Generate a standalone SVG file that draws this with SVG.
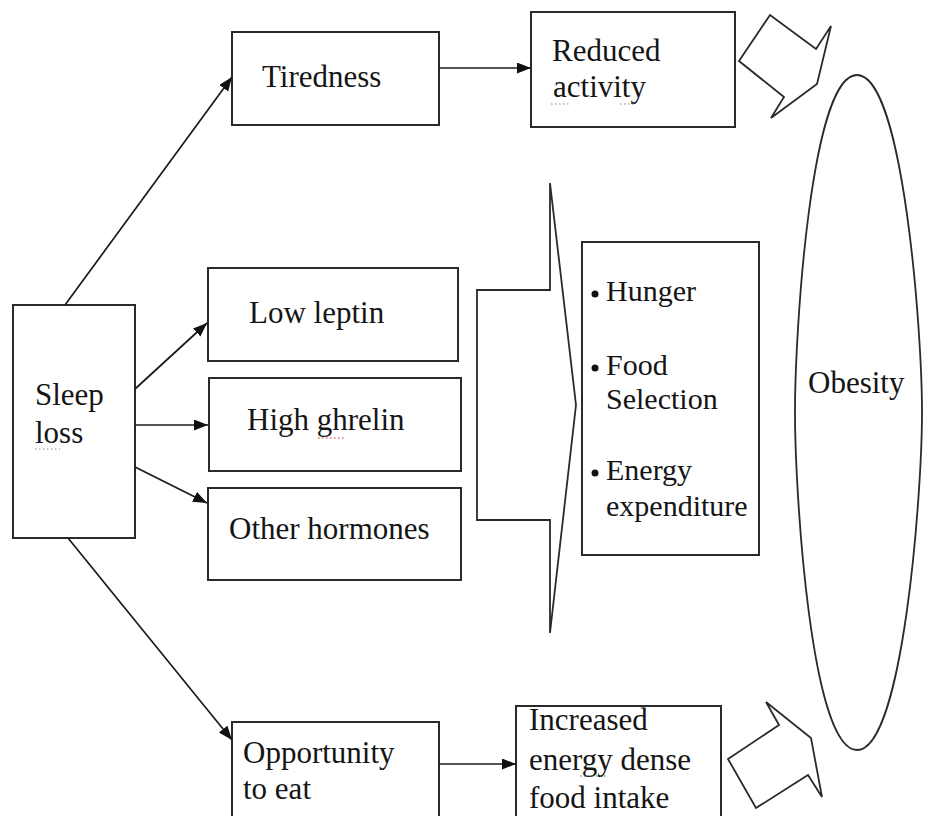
<svg xmlns="http://www.w3.org/2000/svg" width="931" height="816" viewBox="0 0 931 816">
<defs>
<style>
.box{fill:#fff;stroke:#2a2a2a;stroke-width:2}
.shape{fill:#fff;stroke:#2a2a2a;stroke-width:1.8;stroke-linejoin:miter}
.t{font-family:"Liberation Serif","Times New Roman",serif;font-size:31px;fill:#151515}
.tb{font-family:"Liberation Serif","Times New Roman",serif;font-size:30px;fill:#151515}
.conn line{stroke:#1a1a1a;stroke-width:1.7;marker-end:url(#ah)}
.sq{fill:none;stroke-width:1.2;stroke-dasharray:1.5 2.5}
</style>
<marker id="ah" markerUnits="userSpaceOnUse" markerWidth="16" markerHeight="12" refX="14" refY="5.5" orient="auto">
<path d="M0,0 L14,5.5 L0,11 z" fill="#111"/>
</marker>
</defs>
<rect width="931" height="816" fill="#fff"/>

<g id="obesity">
<path class="shape" d="M857,75 C903,75 922,330 922,412 C922,494 903,750 857,750 C811,750 795,494 795,412 C795,330 811,75 857,75 Z"/>
<text class="t" x="808" y="393">Obesity</text>
</g>

<g id="arrow-top">
<polygon class="shape" points="739,61 770,15 816,49 831,26 817,84 771,118 784,97"/>
</g>
<g id="arrow-bottom">
<polygon class="shape" points="766,702 779,725 728,759 756,808 808,775 822,797 811,738"/>
</g>
<g id="chevron">
<polygon class="shape" points="550,183 550,290 477,290 477,520 550,520 550,633 576,405"/>
</g>

<g id="sleep-loss">
<rect class="box" x="13" y="305" width="122" height="233"/>
<text class="t" x="35" y="405">Sleep</text>
<text class="t" x="35" y="443">loss</text>
<path class="sq" stroke="#8a8a8a" d="M35,449 H60"/>
</g>

<g id="tiredness">
<rect class="box" x="232" y="32" width="207" height="93"/>
<text class="t" x="262" y="87">Tiredness</text>
</g>

<g id="reduced-activity">
<rect class="box" x="531" y="12" width="204" height="115"/>
<text class="t" x="552" y="61">Reduced</text>
<text class="t" x="553" y="97">activity</text>
<path class="sq" stroke="#8a8a8a" d="M551,104 H570 M620,104 H636"/>
</g>

<g id="low-leptin">
<rect class="box" x="208" y="268" width="250" height="93"/>
<text class="t" x="249" y="323">Low leptin</text>
</g>

<g id="high-ghrelin">
<rect class="box" x="209" y="378" width="252" height="93"/>
<text class="t" x="247" y="430">High ghrelin</text>
<path class="sq" stroke="#c03030" d="M318,438 H344"/>
</g>

<g id="other-hormones">
<rect class="box" x="208" y="488" width="253" height="92"/>
<text class="t" x="229" y="539">Other hormones</text>
</g>

<g id="effects">
<rect class="box" x="582" y="242" width="177" height="313"/>
<circle cx="595" cy="294" r="3.5" fill="#111"/>
<text class="tb" x="606" y="301">Hunger</text>
<circle cx="595" cy="368" r="3.5" fill="#111"/>
<text class="tb" x="606" y="375">Food</text>
<text class="tb" x="606" y="409">Selection</text>
<circle cx="595" cy="473" r="3.5" fill="#111"/>
<text class="tb" x="606" y="480">Energy</text>
<text class="tb" x="606" y="516">expenditure</text>
</g>

<g id="opportunity">
<rect class="box" x="232" y="722" width="207" height="100"/>
<text class="t" x="243" y="763">Opportunity</text>
<text class="t" x="243" y="799">to eat</text>
</g>

<g id="increased-intake">
<rect class="box" x="516" y="706" width="205" height="116"/>
<text class="t" x="529" y="730">Increased</text>
<text class="t" x="529" y="770">energy dense</text>
<text class="t" x="529" y="808">food intake</text>
<path class="sq" stroke="#3a8a3a" d="M580,776 H608"/>
</g>

<g id="connectors" class="conn">
<line x1="65" y1="305" x2="232" y2="77"/>
<line x1="135" y1="389" x2="207" y2="323"/>
<line x1="135" y1="425" x2="208" y2="425"/>
<line x1="135" y1="467" x2="207" y2="503"/>
<line x1="68" y1="538" x2="232" y2="740"/>
<line x1="439" y1="68" x2="531" y2="68"/>
<line x1="439" y1="764" x2="516" y2="764"/>
</g>
</svg>
